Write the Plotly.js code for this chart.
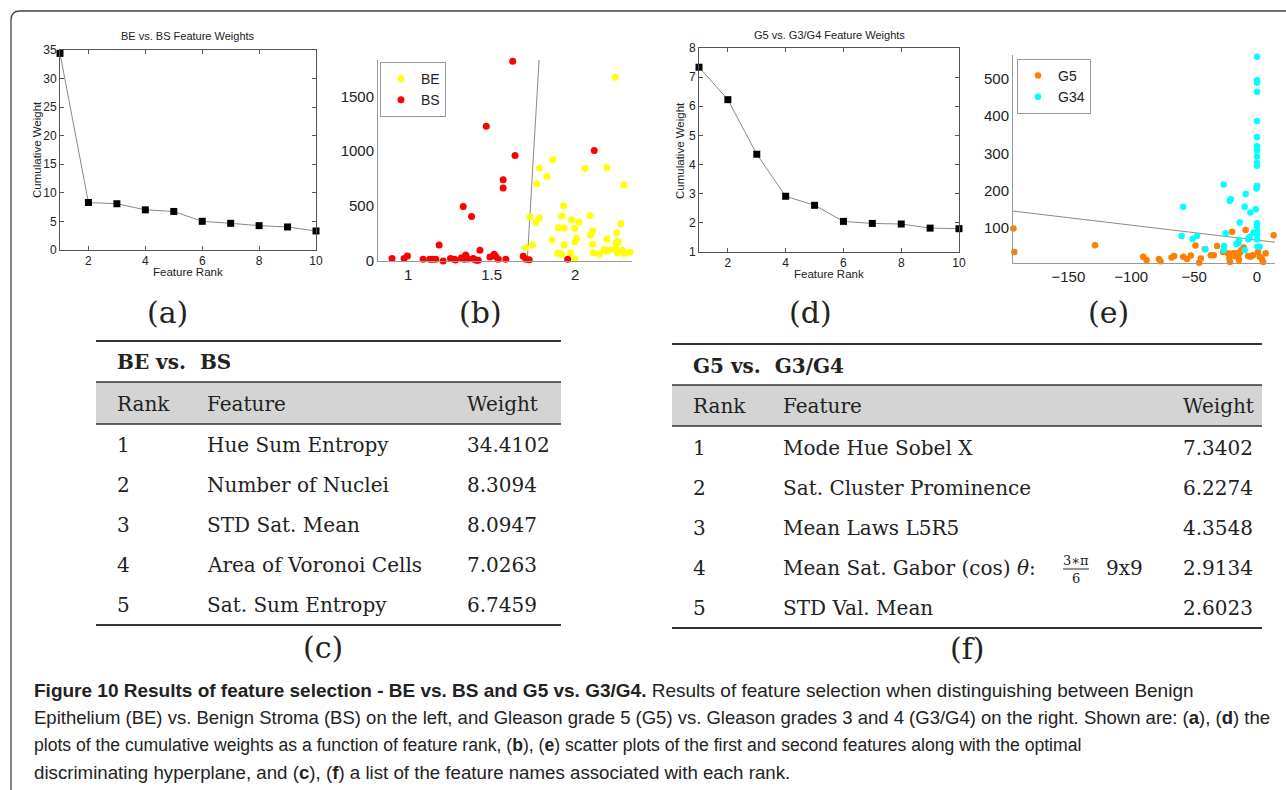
<!DOCTYPE html>
<html>
<head>
<meta charset="utf-8">
<script src="https://cdn.plot.ly/plotly-3.0.1.min.js"></script>
<style>html,body{margin:0;padding:0;background:#fff;}#chart{width:1286px;height:790px;}</style>
</head>
<body>
<div id="chart"></div>
<script>
// ---------------- DATA ----------------
const ranks = [1, 2, 3, 4, 5, 6, 7, 8, 9, 10];
const weightsBE = [34.4102, 8.3094, 8.0947, 7.0263, 6.7459, 5.02, 4.67, 4.26, 4.03, 3.33];
const weightsG = [7.3402, 6.2274, 4.3548, 2.9134, 2.6023, 2.05, 1.98, 1.96, 1.82, 1.80];

const featuresBE = ["Hue Sum Entropy", "Number of Nuclei", "STD Sat. Mean", "Area of Voronoi Cells", "Sat. Sum Entropy"];
const featuresG = ["Mode Hue Sobel X", "Sat. Cluster Prominence", "Mean Laws L5R5", "Mean Sat. Gabor (cos) <i>θ</i>:", "STD Val. Mean"];
const gaborFracNum = "3∗π";
const gaborFracDen = "6";
const gaborSuffix = "9x9";
const tableHeaders = ["Rank", "Feature", "Weight"];
const tableTitleBE = "BE vs.  BS";
const tableTitleG = "G5 vs.  G3/G4";

// (b) scatter: BE (yellow) and BS (red)
const beX = [1.705,1.729,1.745,1.765,1.785,1.769,1.785,1.832,1.865,1.862,1.895,1.918,1.900,1.920,1.930,1.934,1.934,1.972,1.978,1.996,2.000,2.008,1.998,2.022,2.058,2.088,2.092,2.104,2.104,2.108,2.144,2.172,2.188,2.208,2.244,2.252,2.284,2.292,2.328,2.190,2.190,2.248,2.244,2.258,2.274,2.292,2.240];
const beY = [121,400,149,352,391,703,845,770,921,191,70,61,303,409,503,300,149,73,376,297,176,206,21,355,843,415,236,273,152,73,61,103,91,103,112,73,97,67,79,852,197,255,167,176,340,691,1673];
const bsX = [0.816,0.904,0.976,0.996,1.090,1.130,1.146,1.166,1.186,1.210,1.254,1.276,1.285,1.320,1.330,1.336,1.345,1.350,1.360,1.380,1.390,1.400,1.410,1.420,1.430,1.468,1.490,1.515,1.525,1.540,1.569,1.569,1.585,1.626,1.640,1.689,1.705,1.725,1.955,2.114];
const bsY = [6,22,22,45,15,15,15,15,145,0,22,15,8,30,497,15,55,30,18,406,22,12,6,6,97,1227,36,61,40,15,740,664,15,1818,961,43,15,12,15,1006];
const hyperBX = [1.713, 1.784];
const hyperBY = [0, 1830];

// (e) scatter: G5 (orange) and G34 (cyan)
const g5X = [-193.7,-192.9,-128.8,-90.5,-87.8,-78,-76.7,-68,-65.9,-58.7,-55.6,-52.6,-48.9,-46,-44.7,-41.5,-36.8,-34.4,-31.7,-27,-23,-22,-21.5,-19.8,-19,-17.5,-16.4,-15,-14.3,-13.5,-12.4,-10.6,-9,-7.1,-5,-3.2,0,0.8,2.1,4,4.8,6.9,13.2];
const g5Y = [97,34,52,21,12,15,9,19,23,21,15,24,51,5,16,41,25,25,50,34,30,16,7,88,30,22,30,21,12,33,39,46,93,23,21,25,212,34,21,14,7,30,79];
const g34X = [0,0,0,0,0,0,0,0,0,0,0,0,-0.5,-1,0,0,0,0,0,0.3,2.1,-5.3,-9,-9.8,-2.6,-5.8,-6.9,-9.8,-13.8,-14.3,-15,-16.4,-20.9,-21.7,-24.9,-26.5,-26.2,-26.5,-41,-47.6,-51.3,-58.7,-60];
const g34Y = [560,497,490,466,387,344,319,308,291,274,266,212,205,149,111,104,88,82,68,48,48,140,190,156,86,75,68,39,113,66,57,55,176,172,84,216,50,39,41,77,69,156,77];
const hyperEX = [-194, 14.3];
const hyperEY = [144, 60];

const captionLines = [
  "<b>Figure 10 Results of feature selection - BE vs. BS and G5 vs. G3/G4.</b> Results of feature selection when distinguishing between Benign",
  "Epithelium (BE) vs. Benign Stroma (BS) on the left, and Gleason grade 5 (G5) vs. Gleason grades 3 and 4 (G3/G4) on the right. Shown are: (<b>a</b>), (<b>d</b>) the",
  "plots of the cumulative weights as a function of feature rank, (<b>b</b>), (<b>e</b>) scatter plots of the first and second features along with the optimal",
  "discriminating hyperplane, and (<b>c</b>), (<b>f</b>) a list of the feature names associated with each rank."
];
const captionSizes = [19, 18.5, 17.6, 18.7];

// ---------------- LAYOUT HELPERS ----------------
const W = 1286, H = 790;
const px = x => x / W;
const py = y => 1 - y / H;
const SANS = "Liberation Sans, Arial, sans-serif";
const SERIF = "DejaVu Serif, serif";
const CAP = "Liberation Sans, Arial, sans-serif";

const annotations = [];
const shapes = [];
function txt(text, x, y, opts) {
  annotations.push(Object.assign({
    text: text, x: px(x), y: py(y), xref: 'paper', yref: 'paper',
    showarrow: false, xanchor: 'center', yanchor: 'middle',
    font: {family: SANS, size: 11, color: '#222'}
  }, opts || {}));
}
function hline(x0, x1, y, w, color) {
  shapes.push({type: 'line', xref: 'paper', yref: 'paper', x0: px(x0), x1: px(x1), y0: py(y), y1: py(y),
    line: {color: color || '#333', width: w}});
}

// frame
shapes.push({type: 'path', xref: 'paper', yref: 'paper',
  path: `M ${px(11)},${py(800)} L ${px(11)},${py(20)} Q ${px(11)},${py(11)} ${px(20)},${py(11)} L ${px(1300)},${py(11)}`,
  line: {color: '#444', width: 1.3}});

// line-plot titles
txt('BE vs. BS Feature Weights', 188, 36);
txt('Cumulative Weight', 37, 150, {textangle: -90, font: {family: SANS, size: 11.5, color: '#222'}});
txt('Feature Rank', 188, 272, {font: {family: SANS, size: 11.5, color: '#222'}});
txt('G5 vs. G3/G4 Feature Weights', 829, 35);
txt('Cumulative Weight', 680, 150, {textangle: -90, font: {family: SANS, size: 11.5, color: '#222'}});
txt('Feature Rank', 829, 274, {font: {family: SANS, size: 11.5, color: '#222'}});

// panel labels
const labFont = {family: SERIF, size: 30, color: '#222'};
txt('(a)', 167, 312, {font: labFont});
txt('(b)', 480, 312, {font: labFont});
txt('(d)', 811, 312, {font: labFont});
txt('(e)', 1108, 312, {font: labFont});

// tables
function table(t, title, feats, weights) {
  shapes.push({type: 'rect', xref: 'paper', yref: 'paper', x0: px(t.x0), x1: px(t.x1), y0: py(t.band1), y1: py(t.band0),
    fillcolor: '#d4d4d4', line: {width: 0}});
  hline(t.x0, t.x1, t.top, 2.2);
  hline(t.x0, t.x1, t.band0, 1.6);
  hline(t.x0, t.x1, t.band1, 1.6);
  hline(t.x0, t.x1, t.bottom, 2.2);
  const f = {family: SERIF, size: 20, color: '#222'};
  txt('<b>' + title + '</b>', t.colX[0], t.titleY, {xanchor: 'left', font: {family: SERIF, size: 20, color: '#222'}});
  tableHeaders.forEach((h, i) => txt(h, t.colX[i], t.headY, {xanchor: 'left', font: f}));
  feats.forEach((name, i) => {
    const y = t.row0 + i * t.dy;
    txt(String(ranks[i]), t.colX[0], y, {xanchor: 'left', font: f});
    txt(name, t.colX[1], y, {xanchor: 'left', font: f});
    txt(weights[i].toFixed(4), t.colX[2], y, {xanchor: 'left', font: f});
  });
  txt(t.label, t.labelX, t.labelY, {font: labFont});
}
const tblC = {x0: 96, x1: 561, top: 341, titleY: 362, band0: 382, band1: 424, headY: 404, row0: 445, dy: 40, bottom: 625, colX: [115, 205, 465], label: '(c)', labelX: 323, labelY: 647};
const tblF = {x0: 672, x1: 1262, top: 344, titleY: 366, band0: 385, band1: 426, headY: 406, row0: 448, dy: 40, bottom: 628, colX: [691, 781, 1181], label: '(f)', labelX: 967, labelY: 648};
table(tblC, tableTitleBE, featuresBE, weightsBE);
table(tblF, tableTitleG, featuresG, weightsG);
// stacked fraction in row 4 of table (f)
const fracX = 1076, fracRowY = tblF.row0 + 3 * tblF.dy;
txt(gaborFracNum, fracX, fracRowY - 8, {font: {family: SERIF, size: 13, color: '#222'}});
hline(fracX - 13, fracX + 13, fracRowY + 1, 1, '#222');
txt(gaborFracDen, fracX, fracRowY + 10, {font: {family: SERIF, size: 13, color: '#222'}});
txt(gaborSuffix, 1104, fracRowY, {xanchor: 'left', font: {family: SERIF, size: 20, color: '#222'}});

// caption
const capY = [690, 717, 745, 772];
captionLines.forEach((l, i) => txt(l, 32, capY[i], {xanchor: 'left', font: {family: CAP, size: captionSizes[i], color: '#222'}}));

// ---------------- TRACES ----------------
const traces = [
  {x: ranks, y: weightsBE, xaxis: 'x', yaxis: 'y', mode: 'lines+markers', showlegend: false,
   line: {color: '#8a8a8a', width: 1}, marker: {symbol: 'square', size: 7, color: '#000'}, cliponaxis: false},
  {x: hyperBX, y: hyperBY, xaxis: 'x2', yaxis: 'y2', mode: 'lines', showlegend: false, line: {color: '#8a8a8a', width: 1}},
  {x: beX, y: beY, xaxis: 'x2', yaxis: 'y2', mode: 'markers', name: 'BE', legend: 'legend',
   marker: {color: '#ffff00', size: 7}, cliponaxis: false},
  {x: bsX, y: bsY, xaxis: 'x2', yaxis: 'y2', mode: 'markers', name: 'BS', legend: 'legend',
   marker: {color: '#ff0000', size: 7}, cliponaxis: false},
  {x: ranks, y: weightsG, xaxis: 'x3', yaxis: 'y3', mode: 'lines+markers', showlegend: false,
   line: {color: '#8a8a8a', width: 1}, marker: {symbol: 'square', size: 7, color: '#000'}, cliponaxis: false},
  {x: hyperEX, y: hyperEY, xaxis: 'x4', yaxis: 'y4', mode: 'lines', showlegend: false, line: {color: '#8a8a8a', width: 1}},
  {x: g5X, y: g5Y, xaxis: 'x4', yaxis: 'y4', mode: 'markers', name: 'G5', legend: 'legend2',
   marker: {color: '#ff7f00', size: 6.5}, cliponaxis: false},
  {x: g34X, y: g34Y, xaxis: 'x4', yaxis: 'y4', mode: 'markers', name: 'G34', legend: 'legend2',
   marker: {color: '#00ffff', size: 6.5}, cliponaxis: false}
];

const boxAxis = (dom, range, dtick, tick0) => ({
  domain: dom, range: range, dtick: dtick, tick0: tick0, showline: true, mirror: 'ticks', linecolor: '#555', linewidth: 1,
  ticks: 'inside', ticklen: 4, tickcolor: '#555', showgrid: false, zeroline: false,
  tickfont: {family: SANS, size: 12, color: '#222'}, fixedrange: true
});
const openAxis = (dom, range, dtick, tick0) => ({
  domain: dom, range: range, dtick: dtick, tick0: tick0, showline: true, mirror: false, linecolor: '#999', linewidth: 1,
  ticks: '', showgrid: false, zeroline: false, tickfont: {family: SANS, size: 15, color: '#222'}, fixedrange: true
});

const layout = {
  width: W, height: H, margin: {l: 0, r: 0, t: 0, b: 0},
  paper_bgcolor: '#fff', plot_bgcolor: 'rgba(0,0,0,0)',
  font: {family: SANS, color: '#222'},
  xaxis: Object.assign(boxAxis([px(60), px(316)], [1, 10], 2, 0), {anchor: 'y'}),
  yaxis: Object.assign(boxAxis([py(250), py(50)], [0, 35], 5, 0), {anchor: 'x'}),
  xaxis2: Object.assign(openAxis([px(378), px(632)], [0.82, 2.34], 0.5, 0), {anchor: 'y2'}),
  yaxis2: Object.assign(openAxis([py(261), py(60)], [0, 1830], 500, 0), {anchor: 'x2'}),
  xaxis3: Object.assign(boxAxis([px(699), px(959)], [1, 10], 2, 0), {anchor: 'y3'}),
  yaxis3: Object.assign(boxAxis([py(252), py(48)], [1, 8], 1, 0), {anchor: 'x3'}),
  xaxis4: Object.assign(openAxis([px(1013), px(1275)], [-194, 14.3], 50, 0), {anchor: 'y4'}),
  yaxis4: Object.assign(openAxis([py(263), py(55)], [4, 565], 100, 0), {anchor: 'x4'}),
  legend: {x: px(380), y: py(62), xanchor: 'left', yanchor: 'top', bgcolor: '#fff', bordercolor: '#999', borderwidth: 1,
    font: {family: SANS, size: 14, color: '#222'}, itemwidth: 30, tracegroupgap: 0},
  legend2: {x: px(1017), y: py(59), xanchor: 'left', yanchor: 'top', bgcolor: '#fff', bordercolor: '#999', borderwidth: 1,
    font: {family: SANS, size: 14, color: '#222'}, itemwidth: 30, tracegroupgap: 0},
  annotations: annotations,
  shapes: shapes
};

Plotly.newPlot('chart', traces, layout, {displayModeBar: false, staticPlot: true});
</script>
</body>
</html>
